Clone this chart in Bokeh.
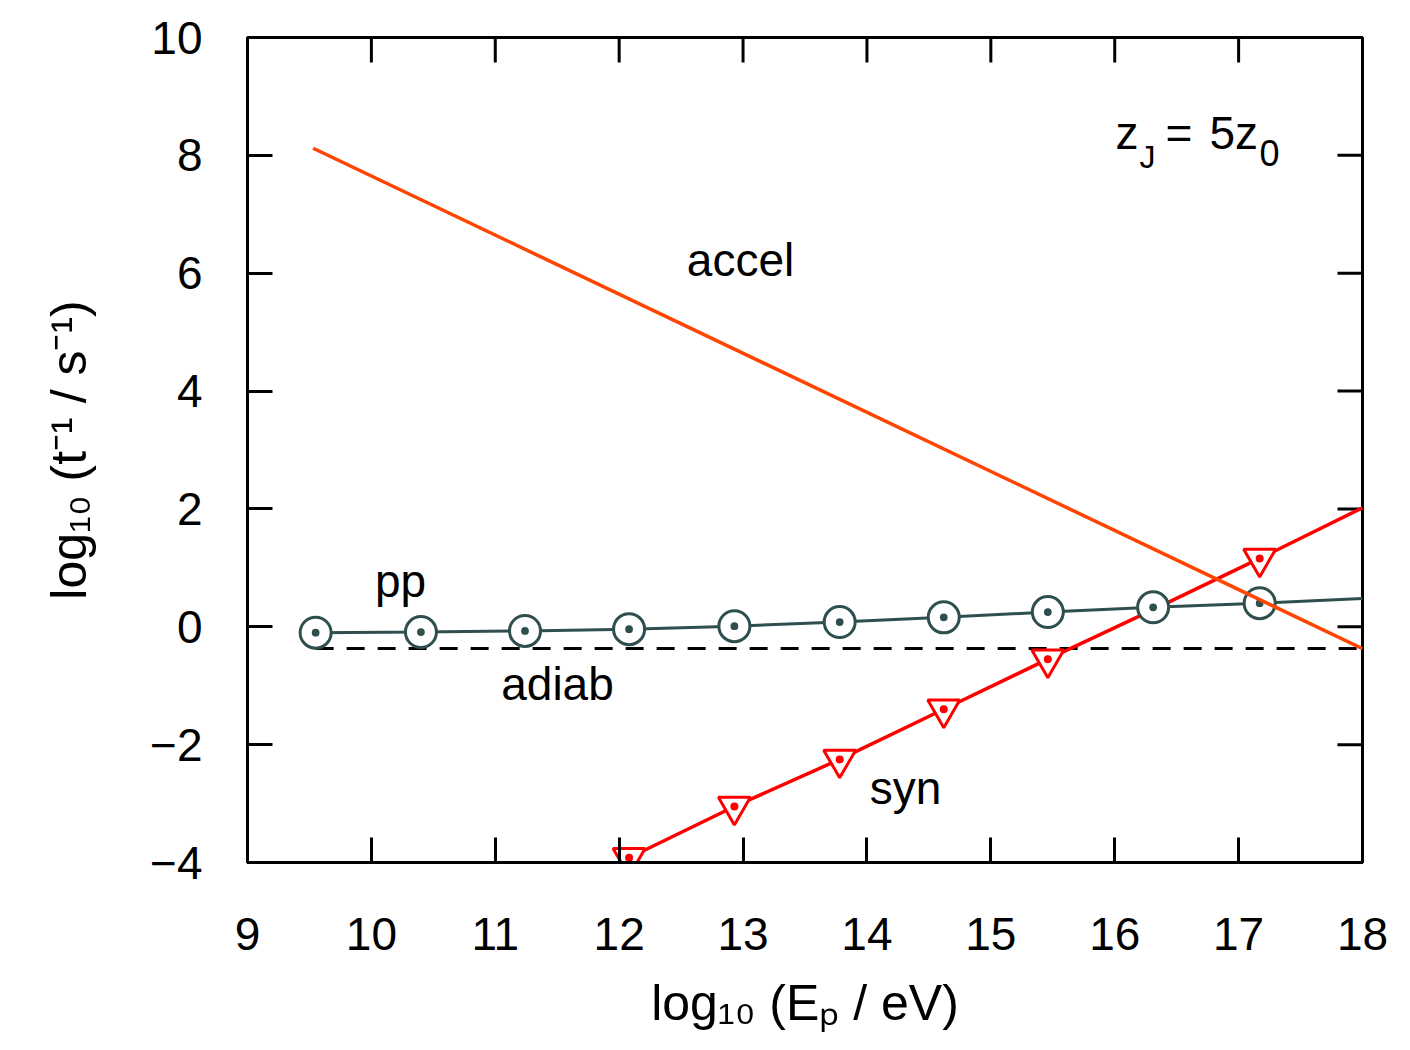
import numpy as np
from bokeh.plotting import figure
from bokeh.models import Range1d, FixedTicker, Label, ColumnDataSource
from bokeh.core.properties import value
from bokeh.embed import file_html
from bokeh.resources import INLINE

# ---- data ----
accel_x = [9.53, 18.0]
accel_y = [8.12, -0.37]

syn_x = [12.08, 12.93, 13.78, 14.62, 15.46, 16.31, 17.17, 18.0]
syn_y = [-3.92, -3.05, -2.25, -1.40, -0.55, 0.29, 1.16, 2.02]
syn_marker_idx = [0, 1, 2, 3, 4, 6]   # the one at 16.3 is hidden under a pp circle

pp_x = [9.55, 10.40, 11.24, 12.08, 12.93, 13.78, 14.62, 15.46, 16.31, 17.17, 18.0]
pp_y = [-0.10, -0.09, -0.07, -0.04, 0.01, 0.08, 0.16, 0.25, 0.33, 0.40, 0.48]
pp_marker_idx = list(range(10))

adiab_x = [9.55, 18.0]
adiab_y = [-0.37, -0.37]

x_ticks = [9, 10, 11, 12, 13, 14, 15, 16, 17, 18]
y_ticks = [-4, -2, 0, 2, 4, 6, 8, 10]
y_tick_labels = {-4: "\u22124", -2: "\u22122"}

curve_names = ["accel", "pp", "adiab", "syn"]
x_label = "log\u2081\u2080 (E\u209a / eV)"
y_label = "log\u2081\u2080 (t\u207b\u00b9 / s\u207b\u00b9)"

FONT = "Liberation Sans"
W, H = 1410, 1050
FL, FR, FT, FB = 247, 1362, 37, 862
X0, X1, Y0, Y1 = 9, 18, -4, 10
BASE_SHIFT = 18  # empirical baseline correction (px)
TICK_LEN = 25


def px2x(px):
    return X0 + (px - FL) * (X1 - X0) / (FR - FL)


def py2y(py):
    return Y1 - (py - BASE_SHIFT - FT) * (Y1 - Y0) / (FB - FT)


p = figure(width=W, height=H, output_backend="svg", toolbar_location=None,
           x_range=Range1d(X0, X1), y_range=Range1d(Y0, Y1),
           min_border_left=FL, min_border_right=W - FR,
           min_border_top=FT, min_border_bottom=H - FB)
p.background_fill_color = "white"
p.border_fill_color = "white"
p.outline_line_color = "black"
p.outline_line_width = 3
p.xgrid.visible = False
p.ygrid.visible = False


def style_axis(ax, ticks):
    ax.ticker = FixedTicker(ticks=ticks)
    ax.major_tick_in = TICK_LEN
    ax.major_tick_out = 0
    ax.major_tick_line_width = 3
    ax.major_tick_line_color = "black"
    ax.minor_tick_line_color = None
    ax.axis_line_width = 3
    ax.axis_line_color = "black"
    ax.major_label_text_font = FONT
    ax.major_label_text_font_size = "46px"
    ax.major_label_text_color = "black"
    ax.axis_label_text_font = FONT
    ax.axis_label_text_font_size = "50px"
    ax.axis_label_text_font_style = "normal"
    ax.axis_label_text_color = "black"


style_axis(p.xaxis[0], x_ticks)
p.xaxis[0].major_label_standoff = 55
p.xaxis[0].axis_label = x_label
p.xaxis[0].axis_label_standoff = 22
style_axis(p.yaxis[0], y_ticks)
p.yaxis[0].major_label_standoff = 45
p.yaxis[0].major_label_overrides = y_tick_labels
p.yaxis[0].axis_label = y_label
p.yaxis[0].axis_label_standoff = 50

# mirrored inward ticks on the top and right edges
p.ray(x=x_ticks, y=[Y1] * len(x_ticks), length=TICK_LEN, length_units="screen",
      angle=-np.pi / 2, line_color="black", line_width=3)
p.ray(x=[X1] * len(y_ticks), y=y_ticks, length=TICK_LEN, length_units="screen",
      angle=np.pi, line_color="black", line_width=3)

# ---- curves ----
SYN = "#ff0000"
ACC = "#ff4500"
PP = "#2f4f4f"

p.line(adiab_x, adiab_y, line_color="black", line_width=3, line_dash="18 13")
p.line(syn_x, syn_y, line_color=SYN, line_width=3.5)
p.scatter([syn_x[i] for i in syn_marker_idx], [syn_y[i] for i in syn_marker_idx],
          marker="triangle_dot", angle=np.pi,
          size=32, line_color=SYN, line_width=3, fill_color="white")
p.line(pp_x, pp_y, line_color=PP, line_width=3)
p.scatter([pp_x[i] for i in pp_marker_idx], [pp_y[i] for i in pp_marker_idx],
          marker="circle_dot", size=31,
          line_color=PP, line_width=3, fill_color="white")
p.line(accel_x, accel_y, line_color=ACC, line_width=3.5)

# ---- curve labels ----
lab_src = ColumnDataSource(dict(
    x=[px2x(740), px2x(400), px2x(557), px2x(905)],
    y=[py2y(277), py2y(598), py2y(701), py2y(805)],
    t=curve_names))
p.text(x="x", y="y", text="t", source=lab_src, text_font=value(FONT),
       text_font_size="46px", text_align="center", text_baseline="alphabetic",
       text_color="black")


def add_piece(txt, px, py, size):
    p.add_layout(Label(x=px2x(px), y=py2y(py), text=txt, text_font=FONT,
                       text_font_size=f"{size}px", text_align="left",
                       text_baseline="alphabetic", text_color="black"))


# z_J = 5 z_0
add_piece("z", 1115, 150, 46)
add_piece("J", 1139, 174, 32)
add_piece("=", 1165, 150, 46)
add_piece("5z", 1209, 150, 46)
add_piece("0", 1259, 170, 36)

open("out.html", "w").write(file_html(p, INLINE))
